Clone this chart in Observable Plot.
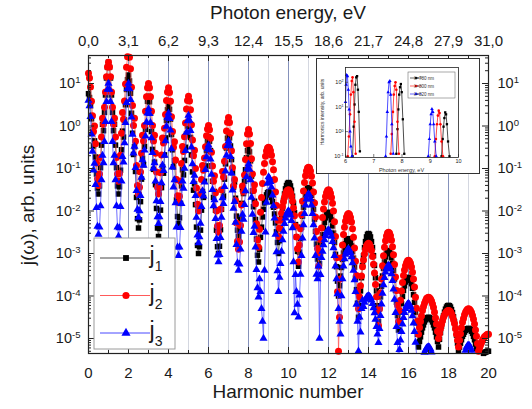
<!DOCTYPE html>
<html><head><meta charset="utf-8">
<script src="https://cdn.jsdelivr.net/npm/d3@7"></script>
<script src="https://cdn.jsdelivr.net/npm/@observablehq/plot@0.6"></script>
<style>
body{margin:0;background:#fff;font-family:"Liberation Sans",Arial,sans-serif;color:#1a1a1a;}
#wrap{position:relative;width:532px;height:409px;overflow:hidden;background:#fff;}
.abs{position:absolute;}
#wrap svg{position:absolute;left:0;top:0;}
</style></head><body><div id="wrap"></div>
<script>
// sampling step of the spectra (harmonic-number units)
const step = 0.05;
// log10 of j(ω), one row per harmonic n (h = n ... n+0.95), last value at h = 20
const j1Log = [
 .76,.67,.48,.17,-.14,-.47,-.35,-.73,-1.13,-1.46,-1.6,-1.41,-.98,-.45,.04,-.11,.32,.73,1.13,1.38,
 1.5,1.38,1.13,.73,.32,-.11,.04,-.45,-.98,-1.41,-1.6,-1.43,-1.04,-.56,-.12,-.26,.14,.5,.86,1.09,
 1.2,1.06,.77,.3,-.17,-.67,-.49,-1.07,-1.68,-2.18,-2.4,-2.21,-1.78,-1.25,-.76,-.91,-.48,-.08,.33,.58,
 .7,.57,.3,-.13,-.55,-1.02,-.85,-1.38,-1.94,-2.4,-2.6,-2.41,-1.98,-1.45,-.96,-1.11,-.68,-.28,.13,.38,
 .5,.39,.16,-.2,-.56,-.96,-.82,-1.26,-1.74,-2.13,-2.3,-2.16,-1.82,-1.41,-1.03,-1.15,-.81,-.5,-.19,0,
 .1,-.02,-.27,-.68,-1.08,-1.51,-1.36,-1.85,-2.38,-2.81,-3.0,-2.84,-2.45,-1.98,-1.54,-1.68,-1.3,-.94,-.58,-.36,
 -.25,-.36,-.58,-.94,-1.3,-1.68,-1.54,-1.98,-2.45,-2.84,-3.0,-2.83,-2.44,-1.96,-1.51,-1.65,-1.25,-.89,-.52,-.29,
 -.18,-.28,-.47,-.79,-1.1,-1.44,-1.32,-1.7,-2.12,-2.45,-2.6,-2.47,-2.18,-1.82,-1.49,-1.59,-1.3,-1.03,-.75,-.58,
 -.5,-.61,-.82,-1.18,-1.53,-1.9,-1.77,-2.2,-2.66,-3.04,-3.2,-2.9,-2.62,-2.38,-2.14,-1.96,-1.81,-1.7,-1.62,-1.57,
 -1.55,-1.56,-1.61,-1.68,-1.78,-1.91,-2.07,-2.28,-2.49,-2.74,-3.0,-2.7,-2.42,-2.17,-1.93,-1.75,-1.6,-1.48,-1.4,-1.35,
 -1.33,-1.35,-1.41,-1.51,-1.65,-1.82,-2.04,-2.32,-2.61,-2.95,-3.3,-2.97,-2.65,-2.38,-2.12,-1.91,-1.75,-1.62,-1.52,-1.47,
 -1.45,-1.47,-1.53,-1.63,-1.78,-1.96,-2.19,-2.48,-2.78,-3.13,-3.5,-3.24,-2.99,-2.77,-2.56,-2.4,-2.27,-2.16,-2.09,-2.04,
 -2.03,-2.05,-2.11,-2.21,-2.35,-2.52,-2.74,-3.02,-3.31,-3.65,-4.0,-3.76,-3.53,-3.33,-3.14,-2.99,-2.87,-2.77,-2.7,-2.66,
 -2.65,-2.67,-2.72,-2.82,-2.95,-3.11,-3.32,-3.58,-3.85,-4.17,-4.5,-4.23,-3.88,-3.57,-3.28,-3.05,-2.86,-2.72,-2.61,-2.55,
 -2.53,-2.55,-2.61,-2.72,-2.86,-3.05,-3.28,-3.57,-3.88,-4.23,-4.6,-4.3,-4.02,-3.77,-3.53,-3.35,-3.2,-3.08,-3.0,-2.95,
 -2.93,-2.95,-3.0,-3.1,-3.23,-3.4,-3.6,-3.87,-4.15,-4.46,-4.8,-4.58,-4.37,-4.18,-4.01,-3.87,-3.76,-3.67,-3.61,-3.57,
 -3.56,-3.58,-3.63,-3.71,-3.82,-3.97,-4.15,-4.38,-4.63,-4.9,-5.2,-5.07,-4.96,-4.85,-4.75,-4.68,-4.61,-4.56,-4.53,-4.51,
 -4.5,-4.51,-4.53,-4.56,-4.61,-4.68,-4.75,-4.85,-4.96,-5.07,-5.2,-5.02,-4.86,-4.71,-4.57,-4.47,-4.38,-4.31,-4.26,-4.23,
 -4.22,-4.23,-4.26,-4.32,-4.39,-4.49,-4.61,-4.76,-4.92,-5.11,-5.3,-5.2,-5.11,-5.03,-4.95,-4.9,-4.85,-4.81,-4.78,-4.77,
 -4.76,-4.77,-4.79,-4.83,-4.88,-4.95,-5.03,-5.13,-5.24,-5.37,-5.5,-5.46,-5.43,-5.4,-5.37,-5.35,-5.33,-5.32,-5.31,-5.3,
 -5.3];
const j2Log = [
 1.24,1.13,.92,.58,.24,-.13,0,-.42,-.87,-1.24,-1.4,-1.13,-.74,-.26,.18,.04,.44,.8,1.16,1.39,
 1.5,1.39,1.16,.8,.44,.04,.18,-.26,-.74,-1.13,-1.3,-1.12,-.69,-.17,.32,.16,.59,.99,1.38,1.63,
 1.75,1.62,1.35,.91,.48,.01,.18,-.36,-.93,-1.4,-1.6,-1.44,-1.08,-.64,-.22,-.35,.01,.35,.69,.9,
 1.0,.9,.69,.35,.01,-.35,-.22,-.64,-1.08,-1.44,-1.6,-1.45,-1.1,-.68,-.28,-.4,-.05,.27,.6,.8,
 .9,.79,.58,.22,-.13,-.5,-.37,-.8,-1.26,-1.64,-1.8,-1.65,-1.3,-.88,-.48,-.6,-.25,.07,.4,.6,
 .7,.59,.38,.03,-.33,-.7,-.57,-1.0,-1.46,-1.84,-2.0,-1.88,-1.6,-1.26,-.93,-1.04,-.75,-.49,-.23,-.07,
 .01,-.09,-.29,-.62,-.94,-1.3,-1.17,-1.57,-2.0,-2.35,-2.5,-2.34,-1.96,-1.5,-1.07,-1.2,-.83,-.48,-.12,.09,
 .2,.08,-.17,-.58,-.98,-1.41,-1.26,-1.75,-2.28,-2.71,-2.9,-2.73,-2.34,-1.86,-1.41,-1.55,-1.15,-.79,-.42,-.19,
 -.08,-.19,-.41,-.77,-1.13,-1.52,-1.38,-1.83,-2.3,-2.68,-2.85,-2.43,-2.03,-1.68,-1.35,-1.09,-.88,-.71,-.59,-.52,
 -.5,-.52,-.58,-.69,-.84,-1.03,-1.26,-1.55,-1.87,-2.22,-2.6,-2.4,-2.22,-2.05,-1.9,-1.78,-1.68,-1.6,-1.54,-1.51,
 -1.5,-1.52,-1.57,-1.65,-1.77,-1.93,-2.11,-2.35,-2.61,-2.89,-3.2,-2.8,-2.42,-2.09,-1.77,-1.53,-1.33,-1.17,-1.06,-.99,
 -.97,-.99,-1.06,-1.18,-1.34,-1.55,-1.81,-2.14,-2.48,-2.88,-3.3,-2.98,-2.67,-2.4,-2.15,-1.95,-1.79,-1.66,-1.57,-1.52,
 -1.5,-1.52,-1.58,-1.68,-1.82,-2.0,-2.25,-2.6,-3.1,-3.9,-5.3,-4.5,-3.6,-3.1,-2.8,-2.55,-2.38,-2.24,-2.14,-2.08,
 -2.06,-2.08,-2.15,-2.26,-2.42,-2.62,-2.87,-3.18,-3.52,-3.9,-4.3,-4.02,-3.76,-3.53,-3.31,-3.15,-3.01,-2.9,-2.82,-2.78,
 -2.76,-2.78,-2.84,-2.93,-3.07,-3.25,-3.46,-3.73,-4.02,-4.35,-4.7,-4.3,-3.93,-3.6,-3.29,-3.05,-2.85,-2.7,-2.59,-2.52,
 -2.5,-2.52,-2.58,-2.69,-2.84,-3.03,-3.26,-3.55,-3.87,-4.22,-4.6,-4.34,-4.1,-3.88,-3.68,-3.52,-3.39,-3.29,-3.22,-3.17,
 -3.16,-3.18,-3.23,-3.32,-3.44,-3.6,-3.79,-4.03,-4.29,-4.59,-4.9,-4.74,-4.6,-4.47,-4.34,-4.25,-4.17,-4.11,-4.06,-4.04,
 -4.03,-4.04,-4.07,-4.12,-4.19,-4.27,-4.38,-4.52,-4.66,-4.83,-5.0,-4.88,-4.77,-4.67,-4.58,-4.5,-4.45,-4.4,-4.37,-4.35,
 -4.34,-4.35,-4.37,-4.42,-4.48,-4.56,-4.65,-4.77,-4.9,-5.04,-5.2,-5.04,-4.89,-4.75,-4.62,-4.53,-4.44,-4.38,-4.34,-4.31,
 -4.3,-4.31,-4.34,-4.39,-4.46,-4.55,-4.66,-4.8,-4.95,-5.12,-5.3,-5.23,-5.16,-5.1,-5.04,-5.0,-4.96,-4.94,-4.92,-4.9,
 -4.9];
const j3Log = [
 .6,.47,.22,-.19,-.6,-1.04,-.88,-1.38,-1.92,-2.36,-2.55,-2.38,-1.88,-1.27,-.69,-.87,-.37,.1,.57,.86,
 1.0,.86,.57,.1,-.37,-.87,-.69,-1.27,-1.88,-2.38,-2.6,-2.4,-1.9,-1.3,-.72,-.85,-.4,.08,.55,.88,
 1.0,.87,.62,.21,-.2,-.64,-.48,-.98,-1.52,-1.96,-2.15,-2.0,-1.64,-1.21,-.8,-.93,-.57,-.24,.09,.3,
 .4,.29,.08,-.28,-.63,-1.0,-.87,-1.3,-1.76,-2.14,-2.3,-2.14,-1.78,-1.34,-.92,-1.05,-.69,-.35,-.01,.2,
 .3,.17,-.1,-.54,-.97,-1.44,-1.27,-1.81,-2.38,-2.85,-3.05,-2.85,-2.39,-1.83,-1.3,-1.47,-1.0,-.58,-.15,.12,
 .25,.13,-.11,-.5,-.89,-1.31,-1.16,-1.64,-2.15,-2.57,-2.75,-2.61,-2.29,-1.9,-1.53,-1.65,-1.32,-1.03,-.73,-.54,
 -.45,-.56,-.78,-1.14,-1.5,-1.88,-1.74,-2.18,-2.65,-3.04,-3.2,-3.03,-2.63,-2.15,-1.69,-1.83,-1.43,-1.06,-.69,-.46,
 -.35,-.47,-.72,-1.11,-1.51,-1.94,-1.78,-2.27,-2.79,-3.22,-3.4,-3.25,-2.9,-2.48,-2.08,-2.2,-1.85,-1.53,-1.2,-1.0,
 -.9,-1.02,-1.27,-1.68,-2.08,-2.51,-2.36,-2.85,-3.38,-3.81,-4.03,-3.6,-3.9,-4.3,-4.6,-5.0,-3.4,-2.5,-1.8,-1.35,
 -1.2,-1.23,-1.31,-1.44,-1.63,-1.88,-2.17,-2.55,-2.96,-3.41,-3.9,-3.56,-3.24,-2.95,-2.68,-2.48,-2.3,-2.17,-2.08,-2.02,
 -2.0,-2.03,-2.1,-2.23,-2.4,-3.2,-4.4,-3.5,-3.9,-4.2,-4.5,-3.98,-3.49,-3.05,-2.64,-2.33,-2.06,-1.86,-1.72,-1.63,
 -1.6,-1.63,-1.72,-1.86,-2.06,-2.33,-2.64,-3.05,-3.49,-3.6,-3.3,-5.0,-3.5,-3.1,-2.95,-2.8,-2.68,-2.58,-2.5,-2.46,
 -2.45,-2.47,-2.52,-2.6,-2.72,-2.87,-3.05,-3.3,-3.6,-3.95,-4.3,-4.6,-4.9,-4.0,-3.6,-3.3,-3.13,-3.02,-2.95,-2.91,
 -2.9,-2.92,-2.98,-3.08,-3.22,-3.4,-3.62,-3.9,-4.2,-4.6,-5.3,-4.5,-4.85,-4.3,-4.1,-4.25,-4.15,-4.08,-4.03,-4.01,
 -4.0,-4.01,-4.04,-4.1,-4.18,-4.28,-4.4,-4.55,-4.72,-4.9,-5.1,-4.77,-4.46,-4.19,-3.94,-3.74,-3.57,-3.44,-3.35,-3.3,
 -3.28,-3.3,-3.37,-3.48,-3.64,-3.84,-4.08,-4.39,-4.72,-5.1,-5.5,-5.26,-5.04,-4.84,-4.66,-4.51,-4.39,-4.3,-4.23,-4.19,
 -4.18,-4.2,-4.25,-4.34,-4.47,-4.64,-4.84,-5.09,-5.36,-5.67,-6.0,-5.86,-5.72,-5.6,-5.49,-5.4,-5.33,-5.27,-5.23,-5.21,
 -5.2,-5.21,-5.25,-5.32,-5.41,-5.53,-5.67,-5.85,-6.05,-6.27,-6.5,-6.5,-6.5,-6.5,-6.5,-6.5,-6.5,-6.5,-6.5,-6.5,
 -6.5,-6.5,-6.5,-6.5,-6.5,-6.5,-6.5,-6.5,-6.5,-6.5,-6.5,-6.26,-6.03,-5.83,-5.64,-5.5,-5.37,-5.28,-5.21,-5.17,
 -5.16,-5.17,-5.21,-5.28,-5.37,-5.5,-5.64,-5.83,-6.03,-6.26,-6.5,-6.5,-6.5,-6.5,-6.5,-6.5,-6.5,-6.5,-6.5,-6.5,
 -6.5];
const seriesNames = ["j1", "j2", "j3"];

// axes
const xTicks = [0, 2, 4, 6, 8, 10, 12, 14, 16, 18, 20];
const topTickLabels = ["0,0", "3,1", "6,2", "9,3", "12,4", "15,5", "18,6", "21,7", "24,8", "27,9", "31,0"];
const yTickExps = [1, 0, -1, -2, -3, -4, -5];

// inset: harmonic spectra for three wavelengths (photon energy, eV ; log10 intensity)
const insetNames = ["λ=780 nm", "λ=800 nm", "λ=820 nm"];
const e780 = [6.25,6.29,6.32,6.35,6.38,6.41,6.44,6.47,6.51, 7.8,7.84,7.87,7.9,7.93,7.96,7.99,8.03,8.08, 9.4,9.44,9.47,9.5,9.53,9.56,9.59,9.63,9.68];
const l780 = [-1.0,0.2,1.1,1.9,2.2,2.25,1.7,0.8,-0.8, -0.9,0.1,0.9,1.5,1.8,1.93,1.6,0.5,-0.9, -1.0,-0.3,0.2,0.55,0.78,0.7,0.3,-0.4,-1.0];
const e800 = [6.08,6.12,6.16,6.19,6.22,6.25,6.28,6.32,6.36, 7.6,7.64,7.68,7.71,7.74,7.77,7.8,7.84,7.89, 9.16,9.2,9.24,9.27,9.3,9.33,9.36,9.4,9.45];
const l800 = [-1.0,-0.2,0.7,1.5,2.05,2.2,1.6,0.4,-0.9, -0.9,-0.1,0.8,1.5,1.85,2.0,1.7,0.4,-0.9, -1.0,-0.3,0.3,0.65,0.85,0.75,0.3,-0.4,-1.0];
const e820 = [6.0,6.02,6.04,6.07,6.1,6.13,6.16,6.19,6.23, 7.42,7.45,7.48,7.51,7.54,7.57,7.6,7.64,7.69, 8.93,8.97,9.0,9.03,9.06,9.09,9.12,9.16,9.21];
const l820 = [1.2,1.9,2.3,2.25,1.7,0.9,0.0,-0.6,-1.0, -1.0,-0.2,0.8,1.6,2.0,2.05,1.5,0.3,-0.9, -1.0,-0.3,0.3,0.7,0.92,0.8,0.3,-0.4,-1.0];
const insetXTicks = [6, 7, 8, 9, 10];
const insetYTickExps = [2, 1, 0, -1];

// ---------------- styles / layout ----------------
const FONT = "'Liberation Sans', Arial, sans-serif";
const styles = [
  {symbol: "square", r: 3.1, fill: "#000000", line: "#4a4a4a", d3sym: d3.symbolSquare, size: 34},
  {symbol: "circle", r: 3.5, fill: "#ff0000", line: "#ff5a5a", d3sym: d3.symbolCircle, size: 40},
  {symbol: "triangle", r: 3.0, fill: "#0000ff", line: "#4848ff", d3sym: d3.symbolTriangle, size: 36}
];
const W = 532, H = 409, mL = 88, mR = 44, mT = 55, mB = 56;
const iW = W - mL - mR, iH = H - mT - mB;
const yLo = 10 ** -5.353, yHi = 10 ** 1.659;
const yTicks = yTickExps.map(e => 10 ** e);
const yMinor = [];
for (let e = -6; e <= 1; e++) for (let k = 2; k <= 9; k++) { const v = k * 10 ** e; if (v > yLo && v < yHi) yMinor.push(v); }
const xAll = d3.range(xTicks[0], xTicks[xTicks.length - 1] + 1);
const xOdd = xAll.filter(d => !xTicks.includes(d));
const xGridEven = xTicks.filter(d => d > xTicks[0] && d < xTicks[xTicks.length - 1]);
const powFmt = d => "10^" + Math.round(Math.log10(d));

function supLabels(svg) {
  d3.select(svg).selectAll('g[aria-label="y-axis tick label"] text').each(function () {
    const t = this.textContent; if (!t.includes("^")) return;
    const [b, e] = t.split("^");
    const s = d3.select(this); s.text(b);
    s.append("tspan").attr("dy", "-0.5em").attr("font-size", "0.66em").text(e);
  });
}

const logsAll = [j1Log, j2Log, j3Log];
const marks = [
  Plot.ruleX(xOdd, {x: d => d, stroke: "#d4d7e0", strokeWidth: 1}),
  Plot.ruleX(xGridEven, {x: d => d, stroke: "#8591bb", strokeWidth: 1})
];
logsAll.forEach((logs, si) => {
  const st = styles[si];
  const data = logs.map((lv, i) => ({h: i * step, v: 10 ** lv}));
  marks.push(Plot.line(data, {x: "h", y: "v", stroke: st.line, strokeWidth: 0.8, clip: true}));
  marks.push(Plot.dot(data.filter(d => d.v >= yLo && d.v <= yHi), {x: "h", y: "v", symbol: st.symbol, r: st.r, fill: st.fill, stroke: "none"}));
});
marks.push(
  Plot.tickX(xTicks, {x: d => d, insetTop: iH - 6, stroke: "#222"}),
  Plot.tickX(xOdd, {x: d => d, insetTop: iH - 3, stroke: "#222"}),
  Plot.tickX(xTicks, {x: d => d, insetBottom: iH - 6, stroke: "#222"}),
  Plot.tickX(xOdd, {x: d => d, insetBottom: iH - 3, stroke: "#222"}),
  Plot.tickY(yTicks, {y: d => d, insetRight: iW - 6, stroke: "#222"}),
  Plot.tickY(yMinor, {y: d => d, insetRight: iW - 3, stroke: "#222"}),
  Plot.tickY(yTicks, {y: d => d, insetLeft: iW - 6, stroke: "#222"}),
  Plot.tickY(yMinor, {y: d => d, insetLeft: iW - 3, stroke: "#222"}),
  Plot.frame({stroke: "#222", strokeWidth: 1.2}),
  Plot.axisX({anchor: "bottom", ticks: xTicks, tickSize: 0, tickPadding: 14, fontSize: 15, label: null}),
  Plot.axisX({anchor: "top", ticks: xTicks, tickFormat: d => topTickLabels[xTicks.indexOf(d)], tickSize: 0, tickPadding: 10, fontSize: 15, label: null}),
  Plot.axisY({anchor: "left", ticks: yTicks, tickFormat: powFmt, tickSize: 0, tickPadding: 8, fontSize: 14.5, label: null}),
  Plot.axisY({anchor: "right", ticks: yTicks, tickFormat: powFmt, tickSize: 0, tickPadding: 9, fontSize: 14.5, label: null})
);

const main = Plot.plot({
  width: W, height: H, marginLeft: mL, marginRight: mR, marginTop: mT, marginBottom: mB,
  style: {fontFamily: FONT, background: "white", color: "#1a1a1a"},
  x: {domain: [xTicks[0], xTicks[xTicks.length - 1]]},
  y: {type: "log", domain: [yLo, yHi]},
  marks
});
supLabels(main);

// main legend
const lg = d3.select(main).append("g");
lg.append("rect").attr("x", 94).attr("y", 238).attr("width", 81).attr("height", 111)
  .attr("fill", "white").attr("stroke", "#9a9a9a").attr("stroke-width", 1);
seriesNames.forEach((name, i) => {
  const y = 258 + i * 37.5, st = styles[i];
  lg.append("line").attr("x1", 100).attr("x2", 150).attr("y1", y).attr("y2", y).attr("stroke", st.line).attr("stroke-width", 1);
  lg.append("path").attr("d", d3.symbol(st.d3sym, st.size)()).attr("transform", `translate(126,${y})`).attr("fill", st.fill);
  const t = lg.append("text").attr("x", 156).attr("y", y + 5).attr("font-size", 23).attr("font-family", FONT).attr("fill", "#1a1a1a");
  t.append("tspan").text(name[0]);
  t.append("tspan").attr("dy", 8).attr("font-size", 14).text(name.slice(1));
});

const wrap = document.getElementById("wrap");
wrap.appendChild(main);

// titles
function addDiv(html, css) { const d = document.createElement("div"); d.className = "abs"; d.style.cssText = css; d.textContent = html; wrap.appendChild(d); return d; }
addDiv("Photon energy, eV", "left:88px;width:400px;top:3px;text-align:center;font-size:19px;line-height:20px;");
addDiv("Harmonic number", "left:88px;width:400px;top:382px;text-align:center;font-size:19px;line-height:20px;");
addDiv("j(ω), arb. units", "left:28px;top:205px;transform:translate(-50%,-50%) rotate(-90deg);font-size:19px;line-height:20px;white-space:nowrap;");

// ---------------- inset ----------------
const iw = 162, ih = 114, imL = 28, imR = 21, imT = 8, imB = 16;
const insetSets = [[e780, l780], [e800, l800], [e820, l820]];
const insetMarks = [];
insetSets.forEach(([E, L], si) => {
  const st = styles[si];
  const rows = E.map((e, i) => ({e, v: 10 ** L[i], g: Math.floor(i / 9)}));
  insetMarks.push(Plot.line(rows, {x: "e", y: "v", z: "g", stroke: st.fill, strokeWidth: 0.7, clip: true}));
  insetMarks.push(Plot.dot(rows, {x: "e", y: "v", symbol: st.symbol, r: 1.3, fill: st.fill, stroke: "none"}));
});
const iyTicks = insetYTickExps.map(e => 10 ** e);
insetMarks.push(
  Plot.tickX(insetXTicks, {x: d => d, insetTop: ih - imT - imB - 3, stroke: "#222", strokeWidth: 0.6}),
  Plot.tickY(iyTicks, {y: d => d, insetRight: iw - imL - imR - 3, stroke: "#222", strokeWidth: 0.6}),
  Plot.frame({stroke: "#222", strokeWidth: 0.8}),
  Plot.axisX({anchor: "bottom", ticks: insetXTicks, tickFormat: d => String(d), tickSize: 0, tickPadding: 2, fontSize: 5.5, label: null}),
  Plot.axisY({anchor: "left", ticks: iyTicks, tickFormat: powFmt, tickSize: 0, tickPadding: 2, fontSize: 5.5, label: null})
);
const inset = Plot.plot({
  width: iw, height: ih, marginLeft: imL, marginRight: imR, marginTop: imT, marginBottom: imB,
  style: {fontFamily: FONT, background: "white", color: "#222"},
  x: {domain: [insetXTicks[0], insetXTicks[insetXTicks.length - 1]]},
  y: {type: "log", domain: [10 ** -1.05, 10 ** 2.6]},
  marks: insetMarks
});
supLabels(inset);
const ig = d3.select(inset).append("g").attr("font-family", FONT).attr("fill", "#333");
ig.append("text").attr("x", imL + (iw - imL - imR) / 2).attr("y", ih - 1.5).attr("text-anchor", "middle").attr("font-size", 5.5).text("Photon energy, eV");
ig.append("text").attr("transform", `translate(6.5,${imT + (ih - imT - imB) / 2}) rotate(-90)`).attr("text-anchor", "middle").attr("font-size", 5).text("Harmonics intensity, arb. units");
const il = ig.append("g");
il.append("rect").attr("x", 91).attr("y", 13).attr("width", 47).attr("height", 26).attr("fill", "white").attr("stroke", "#555").attr("stroke-width", 0.5);
insetNames.forEach((nm, i) => {
  const y = 19 + i * 8, st = styles[i];
  il.append("line").attr("x1", 93).attr("x2", 105).attr("y1", y).attr("y2", y).attr("stroke", st.fill).attr("stroke-width", 0.6);
  il.append("path").attr("d", d3.symbol(st.d3sym, 5)()).attr("transform", `translate(99,${y})`).attr("fill", st.fill);
  il.append("text").attr("x", 107).attr("y", y + 1.6).attr("font-size", 4.5).attr("fill", "#333").text(nm);
});
const box = document.createElement("div");
box.className = "abs";
box.style.cssText = "left:316px;top:58px;width:162px;height:114px;border:1.5px solid #333;background:#fff;";
inset.style.position = "absolute"; inset.style.left = "0"; inset.style.top = "0";
box.appendChild(inset);
wrap.appendChild(box);
</script></body></html>
